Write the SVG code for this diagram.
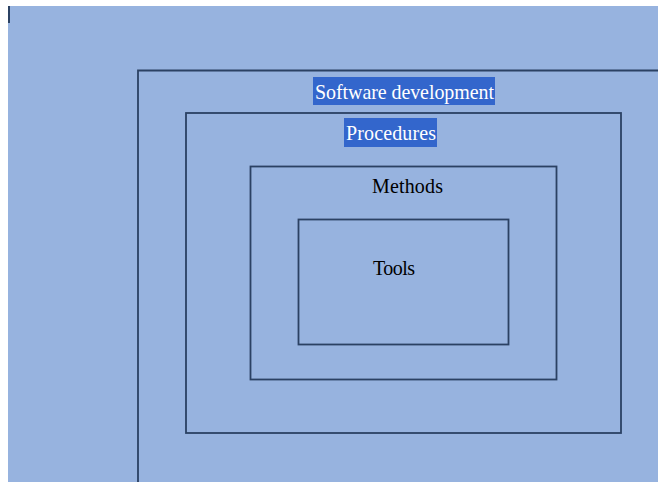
<svg xmlns="http://www.w3.org/2000/svg" width="658" height="482" viewBox="0 0 658 482">
  <style>
    .frame { fill: none; stroke: #2b4163; stroke-width: 1.8; }
    .lbl { font-family: "Liberation Serif", "Times New Roman", serif; font-size: 20px; fill: #000; }
    .hl { fill: #3366cc; }
    .lbl-hl { fill: #ffffff; }
  </style>
  <!-- page -->
  <rect x="0" y="0" width="658" height="482" fill="#ffffff"/>
  <rect x="8" y="6" width="650" height="476" fill="#97b3df"/>
  <rect x="8" y="6" width="2" height="17" fill="#2b4163"/>

  <g id="software-development">
    <path class="frame" d="M138,482 V70.5 H658"/>
    <rect class="hl" x="313" y="77" width="182" height="28"/>
    <text class="lbl lbl-hl" x="315" y="99" textLength="179" transform="translate(0,-9.9) scale(1,1.1)">Software development</text>
  </g>

  <g id="procedures">
    <rect class="frame" x="186" y="113" width="435" height="320"/>
    <rect class="hl" x="344" y="118" width="93" height="29"/>
    <text class="lbl lbl-hl" x="346" y="140" textLength="90" transform="translate(0,-14) scale(1,1.1)">Procedures</text>
  </g>

  <g id="methods">
    <rect class="frame" x="250.5" y="166.5" width="306" height="213"/>
    <text class="lbl" x="372" y="193" textLength="71" transform="translate(0,-19.3) scale(1,1.1)">Methods</text>
  </g>

  <g id="tools">
    <rect class="frame" x="298.5" y="219.5" width="210" height="125"/>
    <text class="lbl" x="373" y="275" textLength="42" transform="translate(0,-27.5) scale(1,1.1)">Tools</text>
  </g>

  <g id="connectors"></g>
</svg>
